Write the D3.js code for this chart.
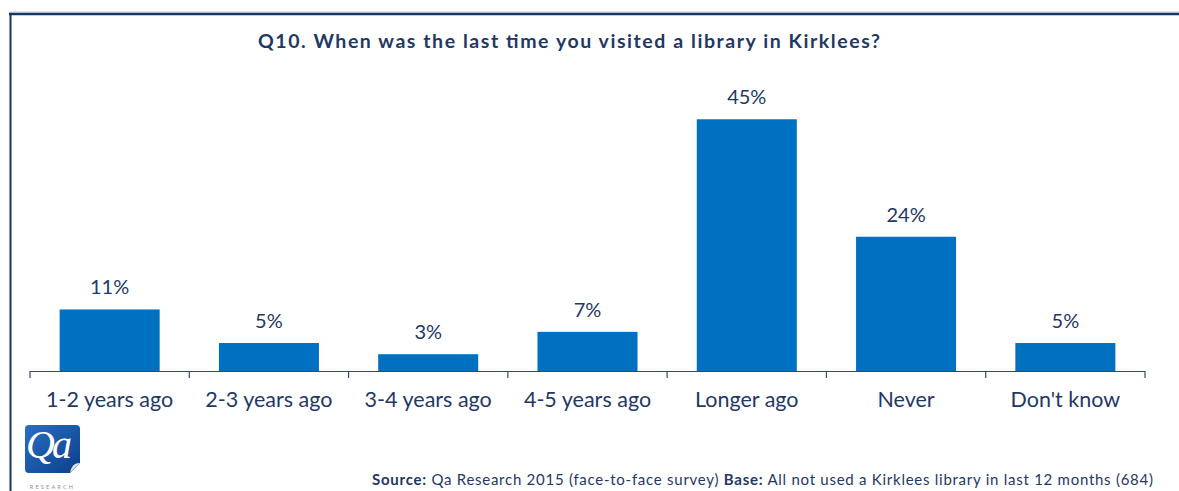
<!DOCTYPE html>
<html>
<head>
<meta charset="utf-8">
<script src="https://cdn.jsdelivr.net/npm/d3@7"></script>
<style>
  html, body { margin: 0; padding: 0; background: #fff; }
  svg { display: block; font-family: Lato, "Open Sans", sans-serif; }
</style>
</head>
<body>
<svg id="chart" width="1179" height="491"></svg>
<script>
// Survey responses: last library visit among non-users in the last 12 months
const categories = ["1-2 years ago", "2-3 years ago", "3-4 years ago", "4-5 years ago", "Longer ago", "Never", "Don't know"];
const percentages = [11, 5, 3, 7, 45, 24, 5];
const valueLabels = ["11%", "5%", "3%", "7%", "45%", "24%", "5%"];

const navy = "#1F3864";
const barBlue = "#0070C0";

const svg = d3.select("#chart");

// Panel frame
svg.append("line").attr("x1", 9).attr("x2", 1179).attr("y1", 12).attr("y2", 12)
  .attr("stroke", "#c9d0dc").attr("stroke-width", 1);
svg.append("line").attr("x1", 9).attr("x2", 1179).attr("y1", 14).attr("y2", 14)
  .attr("stroke", "#17375E").attr("stroke-width", 2.5);
svg.append("line").attr("x1", 10.5).attr("x2", 10.5).attr("y1", 13).attr("y2", 491)
  .attr("stroke", "#17375E").attr("stroke-width", 2);

// Title
svg.append("text")
  .attr("x", 258).attr("y", 48)
  .attr("fill", navy)
  .attr("font-weight", "bold")
  .attr("font-size", 19.5)
  .attr("textLength", 622)
  .attr("lengthAdjust", "spacing")
  .text("Q10. When was the last time you visited a library in Kirklees?");

// Scales
const x = d3.scaleBand().domain(categories).range([30, 1145]).paddingInner(0.372).paddingOuter(0.186);
const y = d3.scaleLinear().domain([0, 50]).range([371, 91.3]);

// Bars
svg.append("g").selectAll("rect")
  .data(percentages)
  .join("rect")
  .attr("x", (d, i) => x(categories[i]))
  .attr("width", x.bandwidth())
  .attr("y", d => y(d))
  .attr("height", d => y(0) - y(d))
  .attr("fill", barBlue);

// Value labels
svg.append("g").selectAll("text")
  .data(percentages)
  .join("text")
  .attr("x", (d, i) => x(categories[i]) + x.bandwidth() / 2)
  .attr("y", d => y(d) - 15)
  .attr("text-anchor", "middle")
  .attr("fill", navy)
  .attr("font-size", 20)
  .text((d, i) => valueLabels[i]);

// Category axis with boundary ticks
const axisG = svg.append("g");
axisG.append("line")
  .attr("x1", 30).attr("x2", 1145)
  .attr("y1", y(0) + 0.5).attr("y2", y(0) + 0.5)
  .attr("stroke", "#2E4A7D").attr("stroke-width", 1.2);
const step = x.step();
const bounds = d3.range(categories.length + 1).map(i => x(categories[0]) - x.step() * x.paddingOuter() + i * step);
axisG.selectAll("line.tick")
  .data(bounds)
  .join("line")
  .attr("class", "tick")
  .attr("x1", d => d).attr("x2", d => d)
  .attr("y1", y(0)).attr("y2", y(0) + 7)
  .attr("stroke", "#2E4A7D").attr("stroke-width", 1.2);
axisG.selectAll("text")
  .data(categories)
  .join("text")
  .attr("x", d => x(d) + x.bandwidth() / 2)
  .attr("y", 407)
  .attr("text-anchor", "middle")
  .attr("fill", navy)
  .attr("font-size", 21.5)
  .text(d => d);

// Qa Research logo
const defs = svg.append("defs");
const grad = defs.append("linearGradient").attr("id", "logoGrad")
  .attr("x1", "0").attr("y1", "0").attr("x2", "1").attr("y2", "1");
grad.append("stop").attr("offset", "0%").attr("stop-color", "#2a6fc0");
grad.append("stop").attr("offset", "100%").attr("stop-color", "#0b3f8c");
const logo = svg.append("g").attr("transform", "translate(25,425)");
logo.append("path")
  .attr("d", "M4,0 H51 Q55,0 55,4 V38 L45,48 H4 Q0,48 0,44 V4 Q0,0 4,0 Z")
  .attr("fill", "url(#logoGrad)");
logo.append("path")
  .attr("d", "M55,38 Q47,37 45,48 Q50,42 55,38 Z")
  .attr("fill", "#dfe3ea");
logo.append("text")
  .attr("x", 1).attr("y", 33)
  .attr("fill", "#fff")
  .attr("font-family", "'Liberation Serif', 'DejaVu Serif', serif")
  .attr("font-style", "italic")
  .attr("font-size", 40)
  .attr("letter-spacing", -3)
  .text("Qa");
logo.append("text")
  .attr("x", 27.5).attr("y", 64)
  .attr("text-anchor", "middle")
  .attr("fill", "#8a8f99")
  .attr("font-size", 5.5)
  .attr("letter-spacing", 2.2)
  .text("RESEARCH");

// Source / base note
const note = svg.append("text")
  .attr("x", 372).attr("y", 485)
  .attr("fill", navy)
  .attr("font-size", 15)
  .attr("textLength", 781)
  .attr("lengthAdjust", "spacing");
note.append("tspan").attr("font-weight", "bold").text("Source:");
note.append("tspan").text(" Qa Research 2015 (face-to-face survey)  ");
note.append("tspan").attr("font-weight", "bold").text("Base:");
note.append("tspan").text(" All not used a Kirklees library in last 12 months (684)");
</script>
</body>
</html>
